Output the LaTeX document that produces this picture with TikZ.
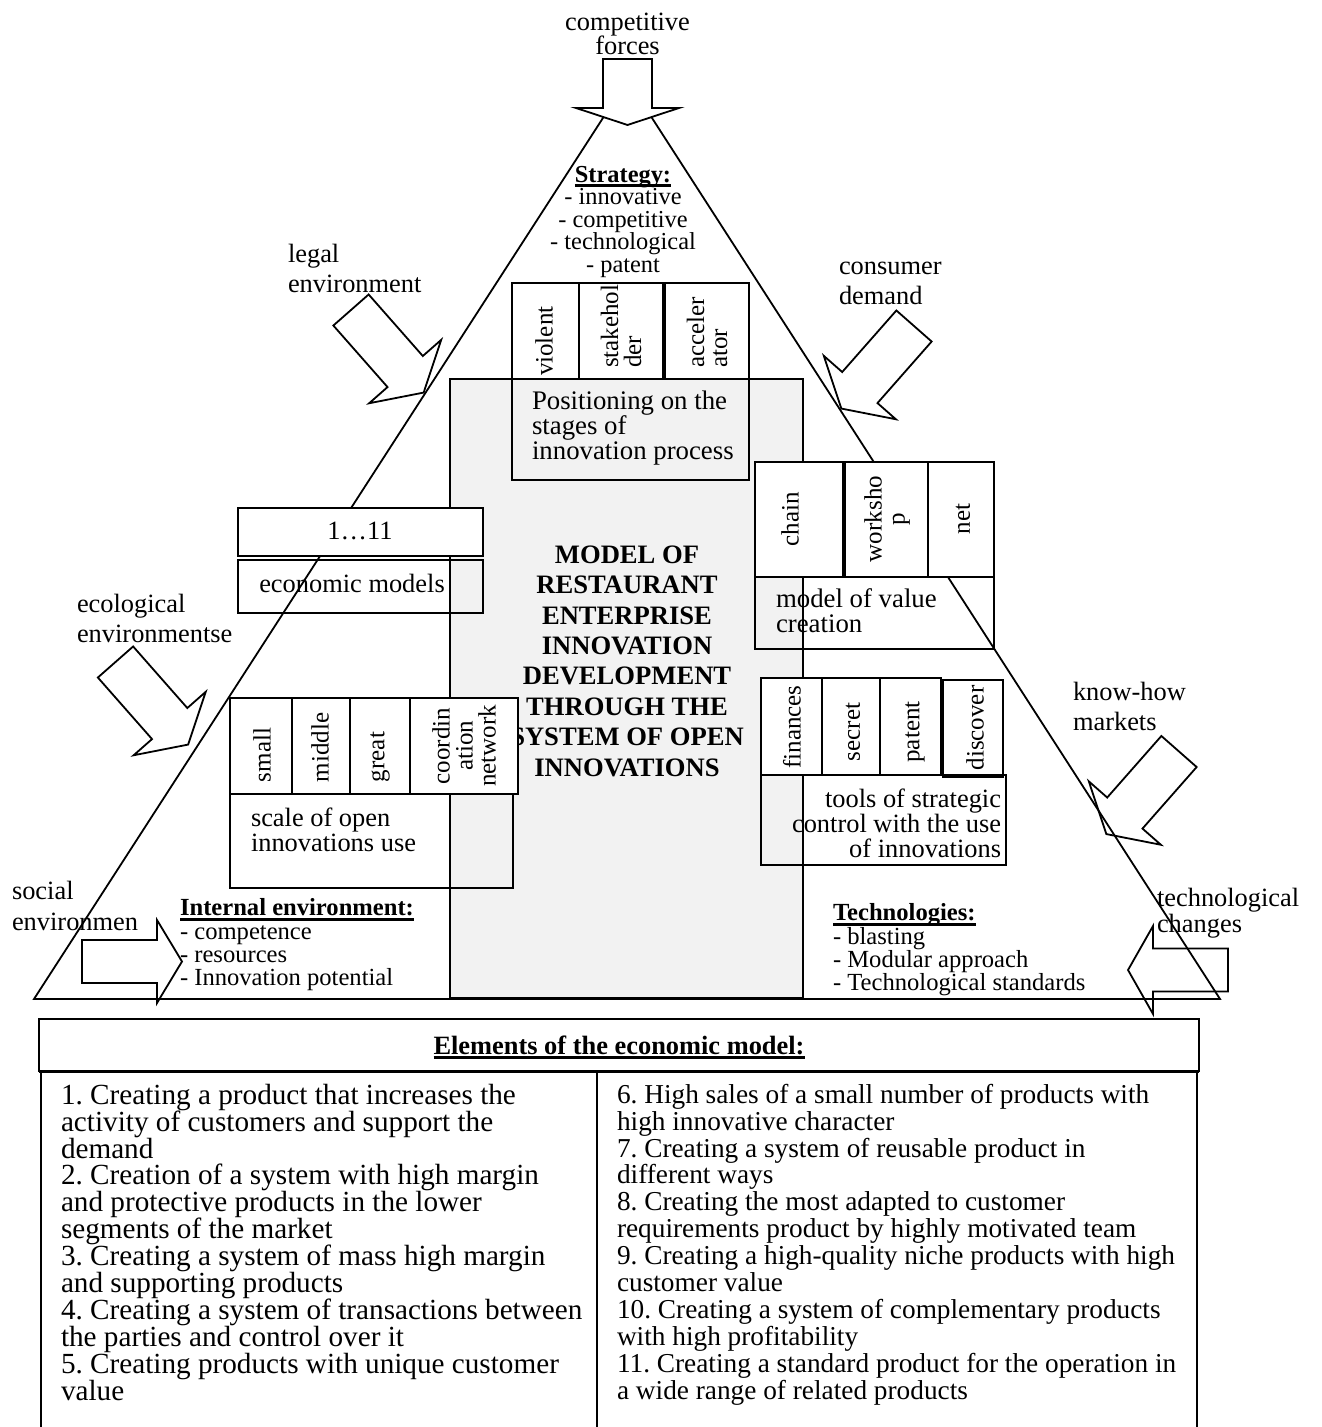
\documentclass[tikz,border=0pt]{standalone}
\usepackage{fontspec}
\setmainfont{Liberation Serif}
\frenchspacing
\definecolor{cgray}{HTML}{F2F2F2}
\newcommand\setfs[2]{\fontsize{#1}{#2}\selectfont\lineskiplimit=-100pt\relax}
\newcommand\myul[1]{\setbox0=\hbox{#1}\rlap{\vrule height -0.9pt depth 2.3pt width \wd0}\box0}
\newcommand\blockarr[8]{%
  \begin{scope}[shift={(#1,#2)},rotate=#3,x=0.5pt,y=0.5pt]
    \draw[#8] (0,-#5) -- (#4,-#5) -- (#4,-#6) -- ({#4+#7},0) -- (#4,#6) -- (#4,#5) -- (0,#5) -- cycle;
  \end{scope}}
\begin{document}
\begin{tikzpicture}[x=0.5pt,y=-0.5pt,line width=0.9pt,line join=miter,
  every node/.style={inner sep=0pt,outer sep=0pt},
  lbl/.style={font=\setfs{13.2}{15}, align=left, anchor=west},
  cellc/.style={rotate=90, align=center, font=\setfs{12.5}{11.5}},
  cellb/.style={rotate=90, align=left, anchor=west, font=\setfs{12.5}{11.5}},
  boxw/.style={draw, fill=white}]
\useasboundingbox (0,0) rectangle (1321,1427);

% central grey field
\draw[fill=cgray] (450,379) rectangle (803,998);
\node[font=\bfseries\setfs{13.3}{15.2},align=center] (title) at (627,661)
  {MODEL OF\\RESTAURANT\\ENTERPRISE\\INNOVATION\\DEVELOPMENT\\THROUGH THE\\SYSTEM OF OPEN\\INNOVATIONS};

% triangle
\coordinate (apex) at (627.5,80);
\coordinate (bl) at (34,999);
\coordinate (br) at (1220,999);
\draw (apex) -- (bl) -- (br) -- cycle;

% block arrows
\blockarr{627.5}{59}{-90}{49}{24.5}{51.5}{17}{fill=white}
\blockarr{351}{310}{-48.65}{82}{23.5}{48}{28}{}
\blockarr{115.5}{662}{-48.65}{82}{23.5}{48}{28}{}
\blockarr{914}{326}{-131.35}{82}{23.5}{48}{28}{}
\blockarr{1179}{751.5}{-131.35}{82}{23.5}{48}{28}{}
\blockarr{82}{961.5}{0}{75}{21.5}{41.5}{25}{}
\blockarr{1228}{970}{180}{75}{21.5}{44}{25}{}

% outside labels
\node[font=\setfs{13.2}{12}, align=center] (lcomp) at (627.5,34) {competitive\\forces};
\node[lbl] (llegal) at (288,268) {legal\\environment};
\node[lbl] (lcons) at (839,283) {consumer\\demand};
\node[lbl] (lecol) at (77,618) {ecological\\environmentse};
\node[lbl] (lknow) at (1073,706) {know-how\\markets};
\node[lbl, font=\setfs{13.2}{15.5}] (lsoc) at (12,906) {social\\environmen};
\node[lbl, font=\setfs{13.2}{13}] (ltech) at (1157,913) {technological\\changes};

% strategy
\node[font=\setfs{12.2}{11.25}, align=center] (strategy) at (623,222)
  {\myul{\textbf{Strategy:}}\\- innovative\\- competitive\\- technological\\- patent};

% positioning group
\draw[boxw] (512,283) rectangle (579,379);
\draw[boxw] (579,283) rectangle (663,379);
\draw[boxw] (665,283) rectangle (749,379);
\node[cellb] (cviol) at (544,376) {violent};
\node[cellb] (cstake) at (621,368) {stakehol\\der};
\node[cellb] (caccel) at (707,368) {acceler\\ator};
\draw (512,379) rectangle (749,480);
\node[lbl, font=\setfs{13.4}{12.5}] (posit) at (532,428) {Positioning on the\\stages of\\innovation process};

% economic models group
\draw[boxw] (238,508) rectangle (483,556);
\node[font=\setfs{13.2}{15}] (ones) at (360,531) {1…11};
\draw (238,560) rectangle (483,613);
\node[font=\setfs{13.2}{15}] (econ) at (352,583) {economic models};

% value creation group
\draw[boxw] (755,462) rectangle (843,577);
\draw[boxw] (845,462) rectangle (928,577);
\draw[boxw] (928,462) rectangle (994,577);
\node[cellc] (cchain) at (790,519.5) {chain};
\node[cellc] (cwork) at (887,519) {worksho\\p};
\node[cellc] (cnet) at (963,519) {net};
\draw (755,577) rectangle (994,649);
\node[lbl, font=\setfs{13.4}{12.5}] (valtxt) at (776,611) {model of value\\creation};

% scale group
\draw[boxw] (230,698) rectangle (292,794);
\draw[boxw] (292,698) rectangle (350,794);
\draw[boxw] (350,698) rectangle (410,794);
\draw[boxw] (410,698) rectangle (518,794);
\node[cellb] (csmall) at (262,782) {small};
\node[cellb] (cmiddle) at (320,782) {middle};
\node[cellb] (cgreat) at (380,782) {great};
\node[cellc] (ccoord) at (464,746) {coordin\\ation\\network};
\draw (230,794) rectangle (513,888);
\node[lbl, font=\setfs{13.2}{12.5}] (scaletxt) at (251,830) {scale of open\\innovations use};

% tools group
\draw[boxw] (761,678) rectangle (822,775);
\draw[boxw] (822,678) rectangle (880,775);
\draw[boxw] (880,678) rectangle (941,775);
\draw[boxw] (943,680) rectangle (1003,777);
\node[cellc] (cfin) at (792,727) {finances};
\node[cellc] (csec) at (853,732) {secret};
\node[cellc] (cpat) at (915,732) {patent};
\node[cellc] (cdisc) at (975,728) {discover};
\draw (761,775) rectangle (1006,865);
\node[font=\setfs{13.2}{12.5}, align=right, anchor=east] (toolstxt) at (1001,823)
  {tools of strategic\\control with the use\\of innovations};

% bottom lists
\node[lbl, font=\setfs{12.3}{11.65}] (internal) at (180,945)
  {\myul{\textbf{Internal environment:}}\\- competence\\- resources\\- Innovation potential};
\node[lbl, font=\setfs{12.3}{11.65}] (techs) at (833,950)
  {\myul{\textbf{Technologies:}}\\- blasting\\- Modular approach\\- Technological standards};

% table
\draw (39,1019) rectangle (1199,1071);
\draw[line width=1.5pt] (39,1071) -- (1199,1071);
\draw (41,1071) -- (41,1427);
\draw (597,1071) -- (597,1427);
\draw (1197,1071) -- (1197,1427);
\node[font=\bfseries\setfs{13.2}{15}] (hdr) at (619,1047) {\myul{Elements of the economic model:}};
\node[anchor=north west, align=left, font=\setfs{14.6}{13.45}] (colL) at (61,1084)
  {1. Creating a product that increases the\\activity of customers and support the\\demand\\2. Creation of a system with high margin\\and protective products in the lower\\segments of the market\\3. Creating a system of mass high margin\\and supporting products\\4. Creating a system of transactions between\\the parties and control over it\\5. Creating products with unique customer\\value};
\node[anchor=north west, align=left, font=\setfs{13.65}{13.45}] (colR) at (617,1084)
  {6. High sales of a small number of products with\\high innovative character\\7. Creating a system of reusable product in\\different ways\\8. Creating the most adapted to customer\\requirements product by highly motivated team\\9. Creating a high-quality niche products with high\\customer value\\10. Creating a system of complementary products\\with high profitability\\11. Creating a standard product for the operation in\\a wide range of related products};
\end{tikzpicture}
\end{document}
